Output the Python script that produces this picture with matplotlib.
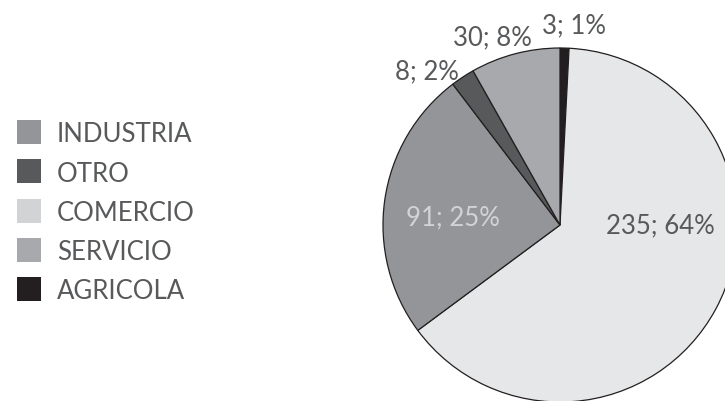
import matplotlib.pyplot as plt
from matplotlib.patches import Rectangle

# sectors, drawn clockwise from the top
sectores = ['AGRICOLA', 'COMERCIO', 'INDUSTRIA', 'OTRO', 'SERVICIO']
empresas = [3, 235, 91, 8, 30]
colores_pie = ['#231f20', '#e6e7e8', '#939598', '#58595b', '#a7a9ac']

# legend order as in the original
orden_leyenda = ['INDUSTRIA', 'OTRO', 'COMERCIO', 'SERVICIO', 'AGRICOLA']
colores_leyenda = ['#939598', '#58595b', '#d1d3d4', '#a7a9ac', '#231f20']

plt.rcParams['font.family'] = ['Lato', 'DejaVu Sans']
gris = '#58595b'
fs = 18.5

fig = plt.figure(figsize=(7.25, 4.02), dpi=100)
fig.set_facecolor('white')

W, H = 725, 402
cx, cy, r = 560, 226, 177
ax = fig.add_axes([(cx - r) / W, (H - cy - r) / H, 2 * r / W, 2 * r / H])

wedges, _ = ax.pie(empresas, colors=colores_pie, startangle=90, counterclock=False,
                   radius=1, wedgeprops=dict(edgecolor='#231f20', linewidth=0.9))
for w in wedges:
    w.set_clip_on(False)
ax.set_xlim(-1, 1)
ax.set_ylim(-1, 1)
ax.set_aspect('equal')
ax.axis('off')

total = sum(empresas)
etiquetas = ['%d; %d%%' % (v, round(100 * v / total)) for v in empresas]
# label positions (baseline, pie data units) and colours
pos = [(0.079, 1.09), (0.565, -0.042), (-0.605, 0.006), (-0.751, 0.828), (-0.384, 1.02)]
col_txt = [gris, gris, '#d1d3d4', gris, gris]
for t, (x, y), c in zip(etiquetas, pos, col_txt):
    ax.text(x, y, t, ha='center', va='baseline', fontsize=fs, color=c, clip_on=False)

# legend drawn by hand: squares + labels
y0, paso, lado = 133, 39.3, 24
cap = 0.717 * fs * 100 / 72
for i, (nombre, c) in enumerate(zip(orden_leyenda, colores_leyenda)):
    yc = y0 + i * paso
    fig.patches.append(Rectangle((17 / W, (H - yc - lado / 2) / H), lado / W, lado / H,
                                 facecolor=c, edgecolor='none',
                                 transform=fig.transFigure, figure=fig))
    fig.text(57 / W, (H - yc - cap / 2) / H, nombre, ha='left', va='baseline',
             fontsize=fs, color=gris)

fig.savefig('out.png', dpi=100)
